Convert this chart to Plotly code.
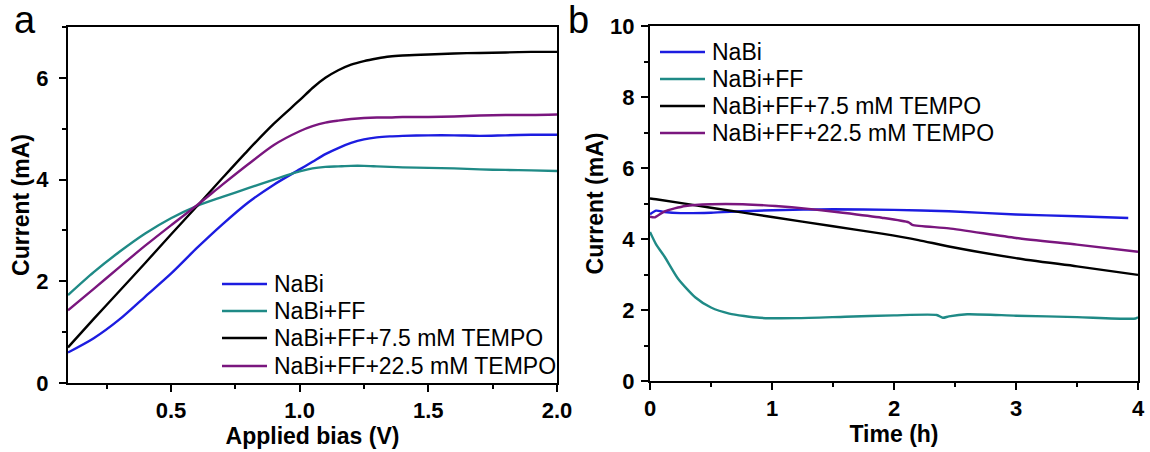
import plotly.graph_objects as go

# panel a: current vs applied bias
bias = [0.1, 0.2, 0.3, 0.4, 0.5, 0.6, 0.7, 0.8, 0.9, 1.0, 1.05, 1.1, 1.15, 1.2,
        1.25, 1.3, 1.35, 1.4, 1.5, 1.6, 1.7, 1.8, 1.9, 2.0]
a_nabi = [0.60, 0.88, 1.25, 1.70, 2.15, 2.65, 3.12, 3.55, 3.90, 4.20, 4.35, 4.50, 4.62, 4.72,
          4.79, 4.83, 4.85, 4.86, 4.87, 4.87, 4.86, 4.87, 4.88, 4.88]
a_ff = [1.73, 2.18, 2.58, 2.94, 3.24, 3.48, 3.66, 3.83, 4.00, 4.16, 4.22, 4.25, 4.26, 4.27,
        4.27, 4.26, 4.25, 4.24, 4.23, 4.22, 4.20, 4.19, 4.18, 4.17]
a_t75 = [0.70, 1.26, 1.81, 2.36, 2.92, 3.47, 4.03, 4.58, 5.10, 5.56, 5.80, 6.00, 6.15, 6.26,
         6.33, 6.38, 6.42, 6.44, 6.46, 6.48, 6.49, 6.50, 6.51, 6.51]
a_t225 = [1.43, 1.85, 2.28, 2.70, 3.10, 3.49, 3.90, 4.30, 4.68, 4.95, 5.05, 5.12, 5.16, 5.19,
          5.21, 5.22, 5.22, 5.23, 5.23, 5.24, 5.26, 5.27, 5.27, 5.28]

# panel b: current vs time
t_nabi = [0, 0.05, 0.12, 0.25, 0.5, 0.75, 1.0, 1.5, 2.0, 2.45, 3.0, 3.5, 3.92]
b_nabi = [4.70, 4.80, 4.76, 4.73, 4.74, 4.78, 4.81, 4.84, 4.82, 4.78, 4.69, 4.64, 4.59]
t_ff = [0, 0.05, 0.12, 0.23, 0.37, 0.5, 0.65, 0.9, 1.2, 1.6, 2.0, 2.35, 2.4, 2.45, 2.6,
        3.0, 3.5, 3.98, 4.0]
b_ff = [4.20, 3.85, 3.50, 2.88, 2.36, 2.07, 1.90, 1.78, 1.77, 1.81, 1.85, 1.86, 1.78, 1.82, 1.88,
        1.84, 1.80, 1.76, 1.80]
t_t75 = [0, 0.05, 0.5, 1.0, 1.5, 1.9, 2.2, 2.45, 3.0, 3.5, 4.0]
b_t75 = [5.14, 5.12, 4.88, 4.62, 4.36, 4.15, 3.97, 3.79, 3.46, 3.23, 2.99]
t_t225 = [0, 0.04, 0.12, 0.29, 0.5, 0.76, 1.03, 1.3, 1.58, 1.9, 2.12, 2.15, 2.45, 3.0, 3.5, 4.0]
b_t225 = [4.63, 4.61, 4.78, 4.93, 4.98, 4.98, 4.93, 4.85, 4.74, 4.60, 4.47, 4.40, 4.30, 4.03,
          3.84, 3.64]

names = ["NaBi", "NaBi+FF", "NaBi+FF+7.5 mM TEMPO", "NaBi+FF+22.5 mM TEMPO"]
colors = ["#1c1ce0", "#1f8a86", "#000000", "#7a167e"]

FONT = "Liberation Sans, Arial, sans-serif"
W, H = 1150, 452


def px(x):
    return x / W


def py(y):
    return 1 - y / H


fig = go.Figure()
for name, color, y in zip(names, colors, [a_nabi, a_ff, a_t75, a_t225]):
    fig.add_trace(go.Scatter(x=bias, y=y, name=name, mode="lines", showlegend=False,
                             line=dict(color=color, width=2.4, shape="spline", smoothing=0.8),
                             xaxis="x", yaxis="y"))
for name, color, t, y in zip(names, colors, [t_nabi, t_ff, t_t75, t_t225],
                             [b_nabi, b_ff, b_t75, b_t225]):
    fig.add_trace(go.Scatter(x=t, y=y, name=name, mode="lines", showlegend=False,
                             line=dict(color=color, width=2.4, shape="spline", smoothing=0.6),
                             xaxis="x2", yaxis="y2"))

tickfont = dict(family=FONT, size=22, color="black", weight="bold")
titlefont = dict(family=FONT, size=23, color="black", weight="bold")
common = dict(showline=True, linecolor="black", linewidth=2, mirror=True,
              ticks="outside", ticklen=7, tickwidth=2, tickcolor="black",
              showgrid=False, zeroline=False, tickfont=tickfont, automargin=False)
minor = dict(ticks="outside", ticklen=4, tickwidth=2, tickcolor="black", showgrid=False)

# legends drawn as line + text so the spacing matches the original
shapes = []
annotations = []
for x0, rows in [(222, [284, 311, 338, 366]), (660, [52, 79, 106, 133])]:
    for name, color, ry in zip(names, colors, rows):
        shapes.append(dict(type="line", xref="paper", yref="paper",
                           x0=px(x0), x1=px(x0 + 45), y0=py(ry), y1=py(ry),
                           line=dict(color=color, width=2.4)))
        annotations.append(dict(text=name, x=px(x0 + 50), y=py(ry), xref="paper", yref="paper",
                                xanchor="left", yanchor="middle", showarrow=False,
                                font=dict(family=FONT, size=23, color="black")))

for label, lx in [("a", 25), ("b", 578)]:
    annotations.append(dict(text=label, x=px(lx), y=py(20), xref="paper", yref="paper",
                            xanchor="center", yanchor="middle", showarrow=False,
                            font=dict(family=FONT, size=38, color="black")))

fig.update_layout(
    template="none",
    width=W, height=H,
    margin=dict(l=0, r=0, t=0, b=0, autoexpand=False),
    paper_bgcolor="white", plot_bgcolor="white",
    showlegend=False,
    xaxis=dict(domain=[px(68), px(557)], range=[0.1, 2.0], tick0=0.5, dtick=0.5,
               tickformat=".1f", anchor="y", ticklabelstandoff=0,
               title=dict(text="Applied bias (V)", font=titlefont, standoff=0),
               minor=dict(dtick=0.25, tick0=0, **minor), **common),
    yaxis=dict(domain=[py(383), py(27)], range=[0, 7], dtick=2, anchor="x",
               ticklabelstandoff=6,
               title=dict(text="Current (mA)", font=titlefont, standoff=0),
               minor=dict(dtick=1, **minor), **common),
    xaxis2=dict(domain=[px(650), px(1138)], range=[0, 4], dtick=1, anchor="y2",
                ticklabelstandoff=0,
                title=dict(text="Time (h)", font=titlefont, standoff=0),
                minor=dict(dtick=0.5, **minor), **common),
    yaxis2=dict(domain=[py(381), py(26)], range=[0, 10], dtick=2, anchor="x2",
                ticklabelstandoff=2,
                title=dict(text="Current (mA)", font=titlefont, standoff=0),
                minor=dict(dtick=1, **minor), **common),
    shapes=shapes,
    annotations=annotations,
)

fig.write_html("out.html", config={"displayModeBar": False},
               post_script="document.body.style.margin = '0';")
